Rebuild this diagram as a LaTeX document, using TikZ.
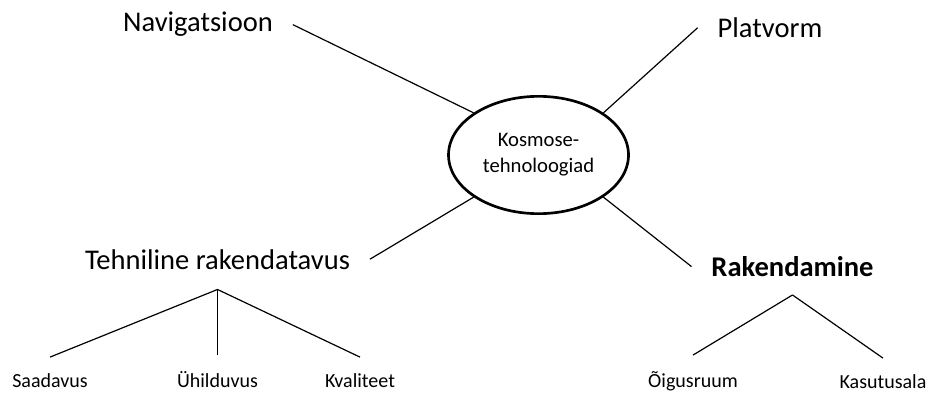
\documentclass[tikz,border=0pt]{standalone}
\usepackage{fontspec}
\setmainfont{Carlito}
\usetikzlibrary{shapes.geometric}

\tikzstyle{link} = [draw, line width=0.9pt]
\tikzstyle{hub} = [draw, ellipse, line width=2pt, minimum width=135pt, minimum height=88pt, inner sep=0pt, align=center, font=\fontsize{15.5}{19.5}\selectfont]
\tikzstyle{topic} = [inner sep=0pt, outer xsep=15pt, anchor=base, font=\fontsize{21.4}{26}\selectfont]
\tikzstyle{leaf} = [inner sep=0pt, outer ysep=12pt, anchor=base, font=\fontsize{15}{18}\selectfont]

\begin{document}
\begin{tikzpicture}[x=0.75pt, y=-0.75pt]
\useasboundingbox (0,0) rectangle (930,392);
% keskus
\node [hub] (kosmos) at (538.5,155) {Kosmose-\\tehnoloogiad};
% esimene tase
\node [topic] (navig) at (198,32) {Navigatsioon};
\node [topic] (platv) at (770,37.5) {Platvorm};
\node [topic] (tehn) at (217.5,269) {Tehniline rakendatavus};
\node [topic] (raken) at (792.5,276.5) {\bfseries Rakendamine};
% teine tase
\node [leaf] (saad) at (50,387) {Saadavus};
\node [leaf] (uhild) at (217.5,387) {Ühilduvus};
\node [leaf] (kval) at (360,387) {Kvaliteet};
\node [leaf] (oigus) at (693,387) {Õigusruum};
\node [leaf] (kasut) at (883,388) {Kasutusala};
% harude algused
\coordinate (tehnharu) at ([yshift=-15pt]tehn.south);
\coordinate (rakharu) at ([yshift=-13.5pt]raken.south);
% jooned keskusest
\path [link] (navig.east) -- (kosmos.147);
\path [link] (platv.west) -- (kosmos.33);
\path [link] (tehn.east) -- (kosmos.213);
\path [link] (raken.west) -- (kosmos.327);
% tehniline rakendatavus
\path [link] (tehnharu) -- (saad.north);
\path [link] (tehnharu) -- (tehnharu |- uhild.north);
\path [link] (tehnharu) -- (kval.north);
% rakendamine
\path [link] (rakharu) -- (oigus.north);
\path [link] (rakharu) -- (kasut.north);
\end{tikzpicture}
\end{document}
